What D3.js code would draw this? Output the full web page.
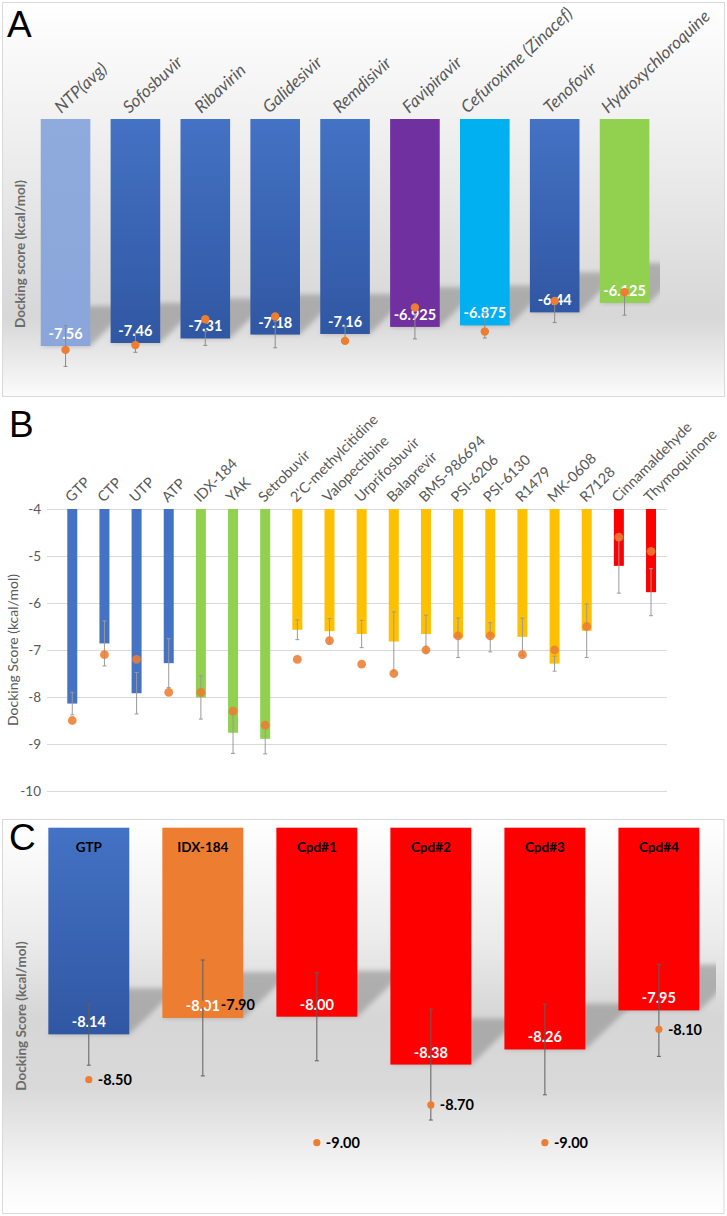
<!DOCTYPE html>
<html>
<head>
<meta charset="utf-8">
<script src="https://cdn.jsdelivr.net/npm/d3@7"></script>
<style>
  body { margin: 0; background: #fff; }
  text { font-family: Lato, "Open Sans", sans-serif; }
</style>
</head>
<body>
<div class="container"></div>
<script>
// ---- panel A data
const aNames = ['NTP(avg)', 'Sofosbuvir', 'Ribavirin', 'Galidesivir', 'Remdisivir',
  'Favipiravir', 'Cefuroxime (Zinacef)', 'Tenofovir', 'Hydroxychloroquine'];
const aScores = [-7.56, -7.46, -7.31, -7.18, -7.16, -6.925, -6.875, -6.44, -6.125];
const aDots = [-7.69, -7.53, -6.67, -6.58, -7.39, -6.28, -7.08, -6.06, -5.77];
const aErr = [0.68, 0.31, 0.23, 0.44, 0.24, 0.40, 0.42, 0.34, 0.41];

// ---- panel B data
const bNames = ['GTP', 'CTP', 'UTP', 'ATP', 'IDX-184', 'YAK', 'Setrobuvir', '2\'C-methylcitidine',
  'Valopectibine', 'Urprifosbuvir', 'Balaprevir', 'BMS-986694', 'PSI-6206', 'PSI-6130',
  'R1479', 'MK-0608', 'R7128', 'Cinnamaldehyde', 'Thymoquinone'];
const bScores = [-8.14, -6.86, -7.92, -7.28, -8.01, -8.76, -8.89, -6.57, -6.60, -6.66,
  -6.82, -6.66, -6.74, -6.73, -6.72, -7.29, -6.59, -5.21, -5.77];
const bDots = [-8.5, -7.1, -7.2, -7.9, -7.9, -8.3, -8.6, -7.2, -6.8, -7.3,
  -7.5, -7.0, -6.7, -6.7, -7.1, -7.0, -6.5, -4.6, -4.9];
const bErr = [0.24, 0.48, 0.44, 0.52, 0.46, 0.44, 0.32, 0.21, 0.27, 0.29,
  0.63, 0.40, 0.42, 0.31, 0.40, 0.16, 0.57, 0.58, 0.50];
const bGroups = ['nat', 'nat', 'nat', 'nat', 'g2', 'g2', 'g2', 'g3', 'g3', 'g3',
  'g3', 'g3', 'g3', 'g3', 'g3', 'g3', 'g3', 'g4', 'g4'];
const bTicks = [-4, -5, -6, -7, -8, -9, -10];

// ---- panel C data
const cNames = ['GTP', 'IDX-184', 'Cpd#1', 'Cpd#2', 'Cpd#3', 'Cpd#4'];
const cScores = [-8.14, -8.01, -8.00, -8.38, -8.26, -7.95];
const cDots = [-8.50, -7.90, -9.00, -8.70, -9.00, -8.10];
const cErr = [0.245, 0.46, 0.35, 0.44, 0.36, 0.365];

const w = 727, h = 1216;
const orange = '#ed7d31';

const svg = d3.select('.container').append('svg')
  .attr('width', w).attr('height', h);
const defs = svg.append('defs');

function vGrad(id, stops) {
  const g = defs.append('linearGradient').attr('id', id)
    .attr('x1', 0).attr('y1', 0).attr('x2', 0).attr('y2', 1);
  stops.forEach(s => g.append('stop').attr('offset', s[0]).attr('stop-color', s[1]));
}
vGrad('bgA', [[0, '#ffffff'], [0.3, '#f1f1f1'], [0.8, '#d7d7d7'], [1, '#fbfbfb']]);
vGrad('bgC', [[0, '#ffffff'], [0.3, '#ececec'], [0.5, '#d6d6d6'], [0.68, '#d9d9d9'], [0.92, '#f9f9f9'], [1, '#ffffff']]);
vGrad('blue', [[0, '#4472c4'], [1, '#3057a3']]);
vGrad('lblue', [[0, '#8faadc'], [1, '#8aa6da']]);
defs.append('filter').attr('id', 'blur')
  .append('feGaussianBlur').attr('stdDeviation', 2.5);

const aFill = ['url(#lblue)', 'url(#blue)', 'url(#blue)', 'url(#blue)', 'url(#blue)',
  '#7030a0', '#00b0f0', 'url(#blue)', '#92d050'];
const bFill = { nat: '#4472c4', g2: '#92d050', g3: '#ffc000', g4: '#ff0000' };
const cFill = ['url(#blue)', orange, '#ff0000', '#ff0000', '#ff0000', '#ff0000'];

function shadows(g, x, y, names, vals, sx, sy, clip) {
  g.append('g').attr('clip-path', 'url(#' + clip + ')')
    .selectAll('polygon').data(vals).enter().append('polygon')
    .attr('points', (d, i) => {
      const x0 = x(names[i]), x1 = x0 + x.bandwidth(), e = y(d);
      return [[x0, e], [x1, e], [x1 + sx, e - sy], [x0 + sx, e - sy]].join(' ');
    })
    .attr('fill', '#8f8f8f').attr('opacity', 0.6)
    .attr('filter', 'url(#blur)');
}

function errBars(g, x, y, names, vals, err, color) {
  const eb = g.append('g').attr('stroke', color).attr('stroke-width', 1);
  vals.forEach((v, i) => {
    const cx = x(names[i]) + x.bandwidth() / 2;
    const y1 = y(v + err[i]), y2 = y(v - err[i]);
    eb.append('line').attr('x1', cx).attr('x2', cx).attr('y1', y1).attr('y2', y2);
    eb.append('line').attr('x1', cx - 2).attr('x2', cx + 2).attr('y1', y1).attr('y2', y1);
    eb.append('line').attr('x1', cx - 2).attr('x2', cx + 2).attr('y1', y2).attr('y2', y2);
  });
}

// ================= A
const gA = svg.append('g');
gA.append('rect').attr('x', 2.5).attr('y', 2.5).attr('width', 722).attr('height', 394)
  .attr('fill', 'url(#bgA)').attr('stroke', '#d9d9d9');
defs.append('clipPath').attr('id', 'clipA').append('rect')
  .attr('x', 30).attr('y', 119).attr('width', 630).attr('height', 270);

const xA = d3.scaleBand().domain(aNames).range([30.6, 659.5])
  .paddingInner(0.29).paddingOuter(0.145);
const yA = d3.scaleLinear().domain([0, -8]).range([119, 359.2]);

shadows(gA, xA, yA, aNames, aScores, 40, 40, 'clipA');

gA.selectAll('rect.bar').data(aScores).enter().append('rect')
  .attr('class', 'bar')
  .attr('x', (d, i) => xA(aNames[i]))
  .attr('y', yA(0))
  .attr('width', xA.bandwidth())
  .attr('height', d => yA(d) - yA(0))
  .attr('fill', (d, i) => aFill[i]);

gA.selectAll('text.val').data(aScores).enter().append('text')
  .attr('x', (d, i) => xA(aNames[i]) + xA.bandwidth() / 2)
  .attr('y', d => yA(d) - 12.5)
  .attr('text-anchor', 'middle').attr('dominant-baseline', 'central')
  .attr('fill', '#fff').attr('font-weight', 'bold').attr('font-size', 14.5)
  .text(d => String(d));

errBars(gA, xA, yA, aNames, aScores, aErr, '#8c8c8c');

gA.selectAll('circle').data(aDots).enter().append('circle')
  .attr('cx', (d, i) => xA(aNames[i]) + xA.bandwidth() / 2)
  .attr('cy', d => yA(d))
  .attr('r', 4.2).attr('fill', orange);

gA.selectAll('text.cat').data(aNames).enter().append('text')
  .attr('font-style', 'italic').attr('font-size', 17).attr('fill', '#595959')
  .text(d => d)
  .attr('transform', function (d) {
    const len = this.getComputedTextLength();
    const sx = xA(d) + xA.bandwidth() / 2 - 3 - 0.16 * Math.max(0, len - 56);
    return 'translate(' + sx + ',114) rotate(-43)';
  });

gA.append('text')
  .attr('transform', 'translate(25,254) rotate(-90)')
  .attr('text-anchor', 'middle').attr('font-weight', 'bold').attr('font-size', 13.5)
  .attr('fill', '#6b6b6b').text('Docking score (kcal/mol)');

gA.append('text').attr('x', 7).attr('y', 37)
  .attr('font-size', 37).style('font-family', '"Liberation Sans", sans-serif')
  .attr('fill', '#000').text('A');

// ================= B
const gB = svg.append('g');
const xB = d3.scaleBand().domain(bNames).range([56.2, 667.1])
  .paddingInner(0.689).paddingOuter(0.3445);
const yB = d3.scaleLinear().domain([-4, -10]).range([509, 791]);

const axB = gB.append('g').attr('transform', 'translate(47,0)')
  .call(d3.axisLeft(yB).tickValues(bTicks).tickSize(-620).tickPadding(6).tickFormat(d => String(d)));
axB.select('.domain').remove();
axB.selectAll('line').attr('stroke', '#d9d9d9');
axB.selectAll('text').attr('fill', '#595959').attr('font-size', 13.5)
  .style('font-family', 'Lato, sans-serif');

gB.selectAll('rect.bar').data(bScores).enter().append('rect')
  .attr('x', (d, i) => xB(bNames[i]))
  .attr('y', yB(-4))
  .attr('width', xB.bandwidth())
  .attr('height', d => yB(d) - yB(-4))
  .attr('fill', (d, i) => bFill[bGroups[i]]);

errBars(gB, xB, yB, bNames, bScores, bErr, '#9a9a9a');

gB.selectAll('circle').data(bDots).enter().append('circle')
  .attr('cx', (d, i) => xB(bNames[i]) + xB.bandwidth() / 2)
  .attr('cy', d => yB(d))
  .attr('r', 4.4).attr('fill', orange).attr('fill-opacity', 0.88);

gB.selectAll('text.cat').data(bNames).enter().append('text')
  .attr('transform', d => 'translate(' + (xB(d) + xB.bandwidth() / 2 - 1) + ',503) rotate(-45)')
  .attr('font-size', 14.5).attr('fill', '#595959')
  .text(d => d);

gB.append('text')
  .attr('transform', 'translate(18,650) rotate(-90)')
  .attr('text-anchor', 'middle').attr('font-size', 14)
  .attr('fill', '#595959').text('Docking Score (kcal/mol)');

gB.append('text').attr('x', 9).attr('y', 437)
  .attr('font-size', 37).style('font-family', '"Liberation Sans", sans-serif')
  .attr('fill', '#000').text('B');

// ================= C
const gC = svg.append('g');
gC.append('rect').attr('x', 2.5).attr('y', 819.5).attr('width', 721.5).attr('height', 394)
  .attr('fill', 'url(#bgC)').attr('stroke', '#d9d9d9');
defs.append('clipPath').attr('id', 'clipC').append('rect')
  .attr('x', 31).attr('y', 828).attr('width', 685).attr('height', 380);

const xC = d3.scaleBand().domain(cNames).range([31.8, 715.9])
  .paddingInner(0.29).paddingOuter(0.145);
const yC = d3.scaleLinear().domain([-6.5, -9]).range([827.7, 1142.7]);

shadows(gC, xC, yC, cNames, cScores, 48, 46, 'clipC');

gC.selectAll('rect.bar').data(cScores).enter().append('rect')
  .attr('x', (d, i) => xC(cNames[i]))
  .attr('y', yC(-6.5))
  .attr('width', xC.bandwidth())
  .attr('height', d => yC(d) - yC(-6.5))
  .attr('fill', (d, i) => cFill[i]);

gC.selectAll('text.cat').data(cNames).enter().append('text')
  .attr('x', d => xC(d) + xC.bandwidth() / 2).attr('y', 847)
  .attr('text-anchor', 'middle').attr('dominant-baseline', 'central')
  .attr('font-weight', 'bold').attr('font-size', 13.5).attr('fill', '#000')
  .text(d => d);

const valHalf = [];
gC.selectAll('text.val').data(cScores).enter().append('text')
  .attr('x', (d, i) => xC(cNames[i]) + xC.bandwidth() / 2)
  .attr('y', d => yC(d) - 12.5)
  .attr('text-anchor', 'middle').attr('dominant-baseline', 'central')
  .attr('fill', '#fff').attr('font-weight', 'bold').attr('font-size', 14.5)
  .text(d => d.toFixed(2))
  .each(function () { valHalf.push(this.getComputedTextLength() / 2); });

errBars(gC, xC, yC, cNames, cScores, cErr, '#5f5f5f');

gC.selectAll('circle').data(cDots).enter().append('circle')
  .attr('cx', (d, i) => xC(cNames[i]) + xC.bandwidth() / 2)
  .attr('cy', d => yC(d))
  .attr('r', 3.6).attr('fill', orange);

// dot labels sit right of the dot, pushed past the value label when they share a row
gC.selectAll('text.dot').data(cDots).enter().append('text')
  .attr('x', (d, i) => {
    const cx = xC(cNames[i]) + xC.bandwidth() / 2;
    const clash = Math.abs(yC(d) - (yC(cScores[i]) - 12.5)) < 12;
    return cx + (clash ? valHalf[i] + 1 : 9);
  })
  .attr('y', d => yC(d))
  .attr('dominant-baseline', 'central')
  .attr('font-weight', 'bold').attr('font-size', 14.5).attr('fill', '#000')
  .text(d => d.toFixed(2));

gC.append('text')
  .attr('transform', 'translate(26,1016) rotate(-90)')
  .attr('text-anchor', 'middle').attr('font-weight', 'bold').attr('font-size', 13.5)
  .attr('fill', '#6b6b6b').text('Docking Score (kcal/mol)');

gC.append('text').attr('x', 9).attr('y', 850)
  .attr('font-size', 37).style('font-family', '"Liberation Sans", sans-serif')
  .attr('fill', '#000').text('C');
</script>
</body>
</html>
